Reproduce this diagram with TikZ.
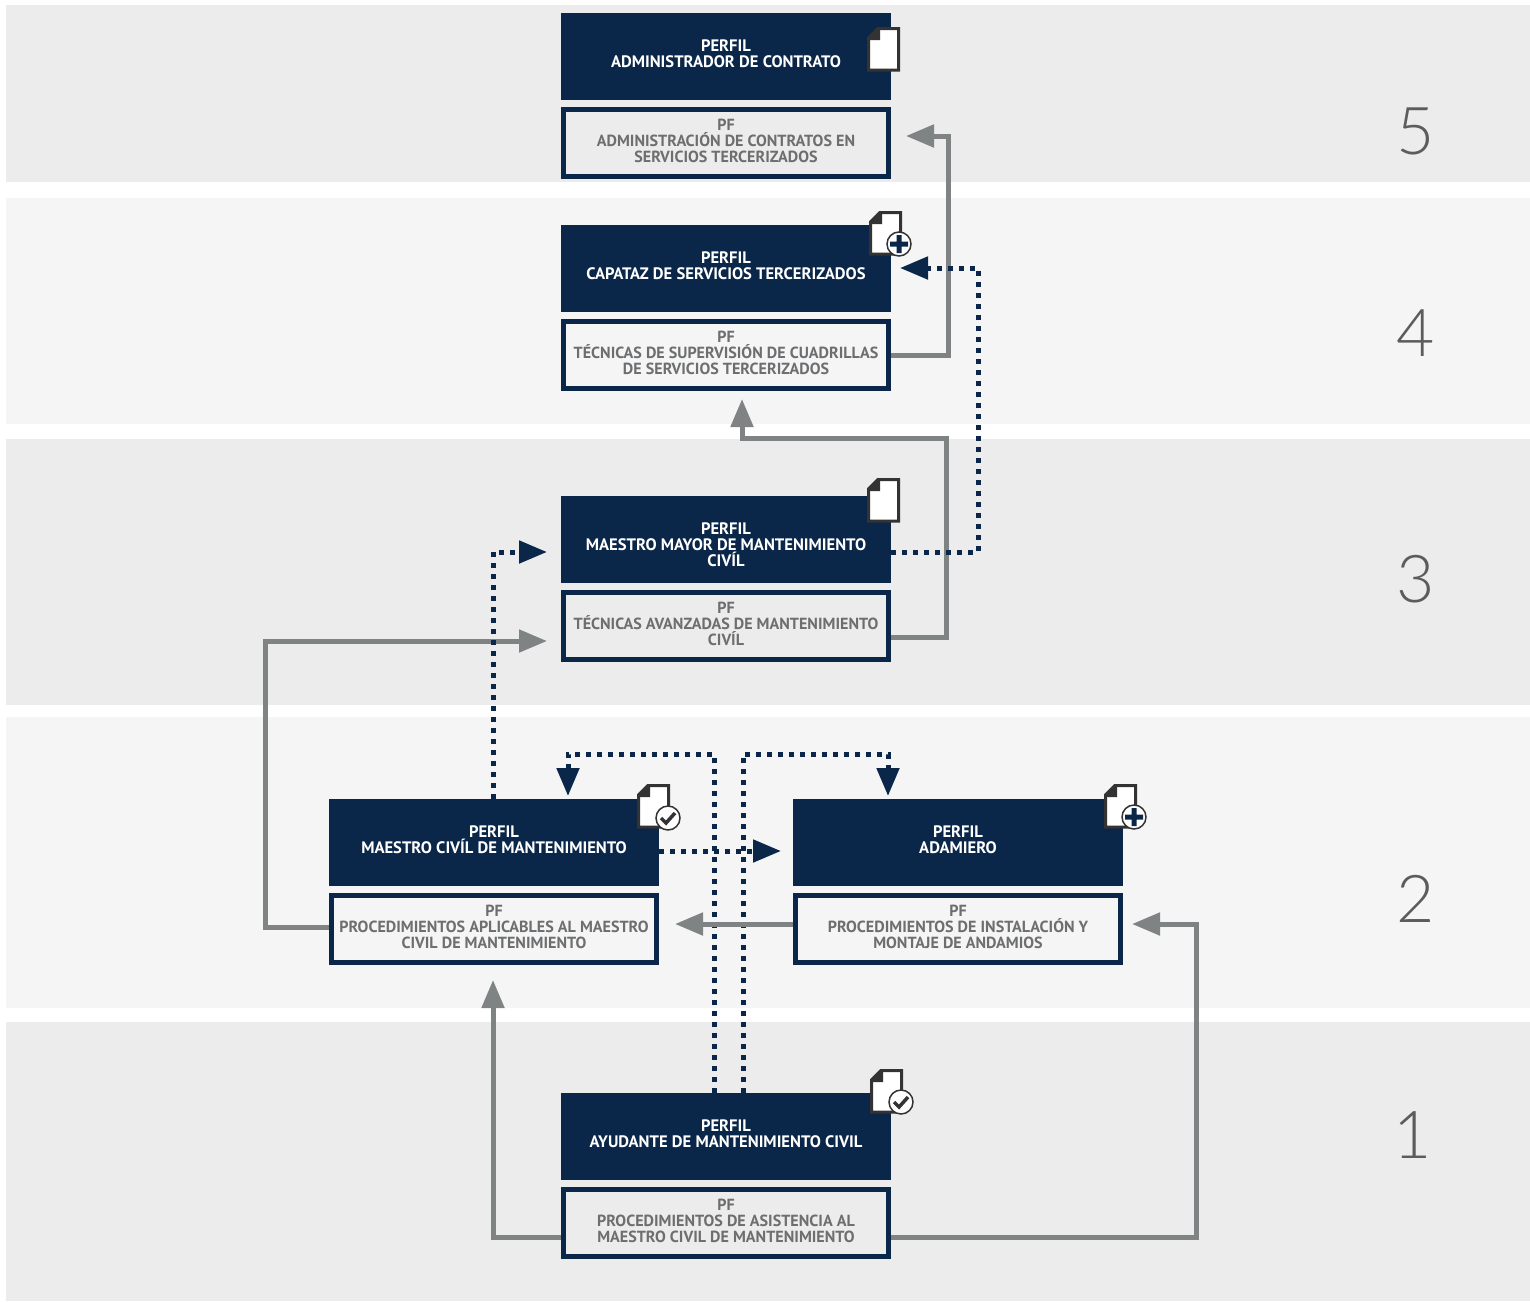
\documentclass[tikz,border=0pt]{standalone}
\usepackage{fontspec}
\usetikzlibrary{positioning,arrows.meta}
\setmainfont{PT Sans}
\newfontfamily\digitfont{Lato Light}
\definecolor{navy}{HTML}{0A2749}
\definecolor{ashline}{HTML}{7F8383}
\definecolor{boxtext}{HTML}{6D6E70}
\definecolor{bandA}{HTML}{ECECEC}
\definecolor{bandB}{HTML}{F5F5F5}
\definecolor{docline}{HTML}{333333}
\tikzset{
  Perfil/.style = {fill = navy, text = white, font = \bfseries\fontsize{16.6}{16}\selectfont,
      align = center, minimum width = 330pt, inner ysep = 0pt, outer sep = 0pt,
      text height = 54.5pt, text depth = 32.5pt},
  PerfilTall/.style = {Perfil, text height = 70.5pt, text depth = 16.5pt},
  Pf/.style = {draw = navy, line width = 5pt, text = boxtext, font = \bfseries\fontsize{16.1}{16}\selectfont,
      align = center, minimum width = 325pt, inner ysep = 0pt, inner xsep = 0pt,
      text height = 52.5pt, text depth = 14.5pt},
  AshWay/.style = {draw = ashline, line width = 5pt, -{Triangle[length=28pt,width=22pt]}},
  NavyWay/.style = {draw = navy, line width = 5pt, dash pattern = on 5pt off 6pt,
      -{Triangle[length=28pt,width=22pt]}},
  Digit/.style = {text = docline!80, font = \digitfont\fontsize{66}{66}\selectfont},
  DocIcon/.pic = {
    \draw[docline, line width = 3pt, fill = white, miter limit = 10]
      (1.5,11) -- (11,1.5) -- (31.5,1.5) -- (31.5,43) -- (1.5,43) -- cycle;
    \fill[docline] (0,10.5) -- (10.5,0) -- (13,0) -- (13,13) -- (0,13) -- cycle;
  },
  PlusMark/.pic = {
    \draw[docline, line width = 1.5pt, fill = white] (0,0) circle (12pt);
    \fill[navy] (-9,-2.5) rectangle (9,2.5) (-2.5,-9) rectangle (2.5,9);
  },
  CheckMark/.pic = {
    \draw[docline, line width = 1.5pt, fill = white] (0,0) circle (12pt);
    \draw[docline, line width = 3.5pt] (-7,0) -- (-2,5) -- (7,-5);
  }
}
\begin{document}
\begin{tikzpicture}[x = 1pt, y = -1pt, node distance = 7pt]
  \useasboundingbox (0,0) rectangle (1530,1301);
  % bands
  \fill[bandA] (6,5) rectangle (1530,182);
  \fill[bandB] (6,198) rectangle (1530,424);
  \fill[bandA] (6,439) rectangle (1530,705);
  \fill[bandB] (6,717) rectangle (1530,1008);
  \fill[bandA] (6,1022) rectangle (1530,1301);
  \foreach \n/\x/\y in {5/1416/131, 4/1416/333, 3/1416/579, 2/1416/899, 1/1413/1135}
    \node[Digit] (D\n) at (\x,\y) {\n};
  % level 5
  \node[Perfil] (P5) at (726,56.5) {PERFIL\\ADMINISTRADOR DE CONTRATO};
  \node[Pf, below = of P5] (F5) {PF\\ADMINISTRACIÓN DE CONTRATOS EN\\SERVICIOS TERCERIZADOS};
  % level 4
  \node[Perfil] (P4) at (726,268.5) {PERFIL\\CAPATAZ DE SERVICIOS TERCERIZADOS};
  \node[Pf, below = of P4] (F4) {PF\\TÉCNICAS DE SUPERVISIÓN DE CUADRILLAS\\DE SERVICIOS TERCERIZADOS};
  % level 3
  \node[PerfilTall] (P3) at (726,539.5) {PERFIL\\MAESTRO MAYOR DE MANTENIMIENTO\\CIVÍL};
  \node[Pf, below = of P3] (F3) {PF\\TÉCNICAS AVANZADAS DE MANTENIMIENTO\\CIVÍL};
  % level 2
  \node[Perfil] (PL) at (494,842.5) {PERFIL\\MAESTRO CIVÍL DE MANTENIMIENTO};
  \node[Pf, below = of PL] (FL) {PF\\PROCEDIMIENTOS APLICABLES AL MAESTRO\\CIVIL DE MANTENIMIENTO};
  \node[Perfil] (PR) at (958,842.5) {PERFIL\\ADAMIERO};
  \node[Pf, below = of PR] (FR) {PF\\PROCEDIMIENTOS DE INSTALACIÓN Y\\MONTAJE DE ANDAMIOS};
  % level 1
  \node[Perfil] (P1) at (726,1136.5) {PERFIL\\AYUDANTE DE MANTENIMIENTO CIVIL};
  \node[Pf, below = of P1] (F1) {PF\\PROCEDIMIENTOS DE ASISTENCIA AL\\MAESTRO CIVIL DE MANTENIMIENTO};
  % icons
  \pic at (867,27) {DocIcon};
  \pic at (869,211) {DocIcon};
  \pic at (899,244) {PlusMark};
  \pic at (867,478) {DocIcon};
  \pic at (637,784) {DocIcon};
  \pic at (668,818) {CheckMark};
  \pic at (1104,784) {DocIcon};
  \pic at (1134,817) {PlusMark};
  \pic at (870,1069) {DocIcon};
  \pic at (901,1102) {CheckMark};
  % arrow ends
  \coordinate (T5) at (906,136);
  \coordinate (T4) at (742,399);
  \coordinate (S4) at (900,268);
  \coordinate (T3) at (547,641);
  \coordinate (S3) at (547,552);
  \coordinate (TL) at (493,980);
  \coordinate (SL) at (568,796);
  \coordinate (SR) at (888,796);
  \coordinate (TR) at (1132,924);
  \coordinate (EL) at (675,924);
  \coordinate (ER) at (781,851);
  % grey ways
  \draw[AshWay] (F4.east |- 0,355) -| (948,136) -- (T5);
  \draw[AshWay] (F3.east |- 0,637) -| (946,438) -| (T4);
  \draw[AshWay] (FL.west |- 0,927) -| (265,641) -- (T3);
  \draw[AshWay] (F1.west |- 0,1237) -| (TL);
  \draw[AshWay] (F1.east |- 0,1237) -| (1196,924) -- (TR);
  % dotted ways
  \draw[NavyWay] (P3.east |- 0,552) -| (978,268) -- (S4);
  \draw[NavyWay] (PL.north -| 493,0) |- (S3);
  \draw[NavyWay] (PL.east |- ER) -- (ER);
  \draw[NavyWay] (P1.north -| 714,0) |- (568,754) -- (SL);
  \draw[NavyWay] (P1.north -| 743,0) |- (888,754) -- (SR);
  \draw[AshWay] (FR.west |- EL) -- (EL);
\end{tikzpicture}
\end{document}
